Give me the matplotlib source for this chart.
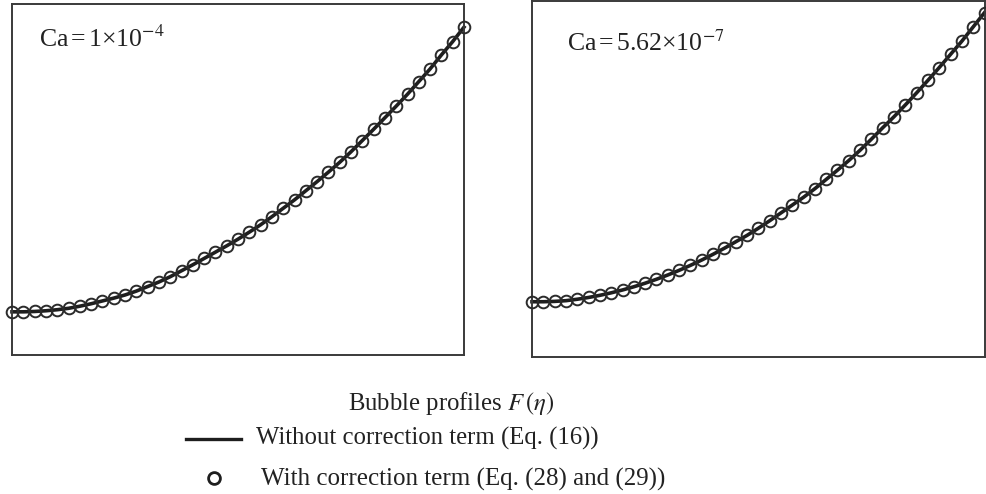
import numpy as np
import matplotlib
matplotlib.use("Agg")
import matplotlib.pyplot as plt
from matplotlib.lines import Line2D

plt.rcParams["font.family"] = "Liberation Serif"
plt.rcParams["mathtext.fontset"] = "stix"

W, H = 986, 494
INK = "#2b2b2b"

# similarity coordinate along the film, 41 sample points
eta = np.linspace(0.0, 1.0, 41)

# bubble profile F(eta), normalised to the plot window
F_ca_1e4 = [0.123, 0.123, 0.124, 0.126, 0.129, 0.133, 0.139, 0.146, 0.154, 0.162,
            0.171, 0.182, 0.195, 0.208, 0.223, 0.240, 0.257, 0.275, 0.293, 0.311,
            0.330, 0.350, 0.371, 0.394, 0.418, 0.442, 0.468, 0.494, 0.521, 0.549,
            0.579, 0.611, 0.643, 0.676, 0.709, 0.743, 0.779, 0.815, 0.855, 0.893,
            0.934]
F_ca_562e7 = [0.155, 0.155, 0.156, 0.158, 0.162, 0.167, 0.173, 0.180, 0.188, 0.197,
              0.207, 0.218, 0.230, 0.243, 0.257, 0.272, 0.288, 0.305, 0.323, 0.341,
              0.361, 0.382, 0.404, 0.426, 0.448, 0.472, 0.498, 0.524, 0.551, 0.580,
              0.611, 0.643, 0.674, 0.707, 0.741, 0.776, 0.812, 0.849, 0.886, 0.926,
              0.966]

labels = [r"Ca$\,$=$\,$1×10$^{-4}$", r"Ca$\,$=$\,$5.62×10$^{-7}$"]


def px_box(x0, y0, x1, y1):
    return [x0 / W, 1 - y1 / H, (x1 - x0) / W, (y1 - y0) / H]


def fx(x):
    return x / W


def fy(y):
    return 1 - y / H


fig = plt.figure(figsize=(W / 100, H / 100), dpi=100)

boxes = [px_box(12, 4, 464, 355), px_box(532, 0.5, 984.5, 357)]
label_pos = [(39, 47), (567, 51)]

for box, F, lab, (tx, ty) in zip(boxes, [F_ca_1e4, F_ca_562e7], labels, label_pos):
    ax = fig.add_axes(box)
    ax.plot(eta, F, color="#1e1e1e", lw=2.6, zorder=2, clip_on=False)
    ax.plot(eta, F, ls="none", marker="o", ms=8.4, mfc="none", mec=INK,
            mew=1.4, zorder=3, clip_on=False)
    ax.set_xlim(0, 1)
    ax.set_ylim(0, 1)
    ax.set_xticks([])
    ax.set_yticks([])
    for sp in ax.spines.values():
        sp.set_color("#3a3a3a")
        sp.set_linewidth(1.4)
    fig.text(fx(tx), fy(ty), lab, fontsize=18.5, color="#222222", va="baseline")

# legend block underneath the panels
fs = 17.8
fig.text(fx(451), fy(410), r"Bubble profiles $F\,(\eta)$", fontsize=fs,
         color="#222222", ha="center", va="baseline")
fig.add_artist(Line2D([fx(186), fx(241)], [fy(439), fy(439)], color="#1e1e1e", lw=2.4))
fig.text(fx(256), fy(444.5), "Without correction term (Eq. (16))", fontsize=fs,
         color="#222222", va="baseline")
fig.add_artist(Line2D([fx(214)], [fy(478)], ls="none", marker="o", ms=8.5, mfc="none",
                      mec="#1e1e1e", mew=2.0))
fig.text(fx(261), fy(486), "With correction term (Eq. (28) and (29))", fontsize=18,
         color="#222222", va="baseline")

fig.savefig("out.png", dpi=100)
